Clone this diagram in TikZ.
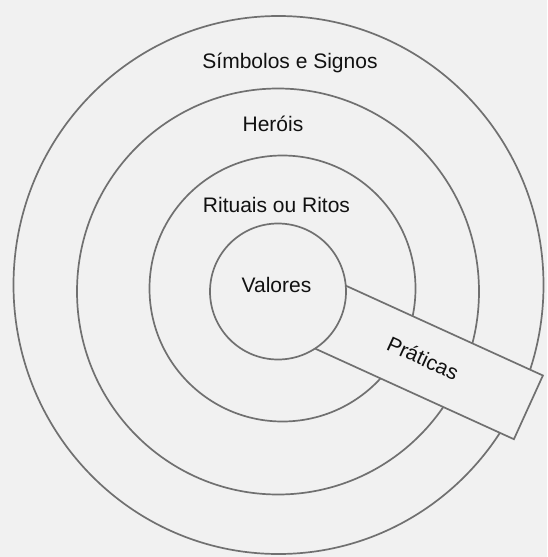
\documentclass[tikz,border=0pt]{standalone}
\usepackage{fontspec}
\setmainfont{Liberation Sans}
\definecolor{bgc}{HTML}{F1F1F1}
\definecolor{linec}{HTML}{707070}
\definecolor{txtc}{HTML}{111111}
\begin{document}
\begin{tikzpicture}[x=1pt,y=-1pt,
  ring/.style={draw=linec,line width=1.7pt,fill=bgc},
  lbl/.style={text=txtc,font=\fontsize{21}{25}\selectfont,inner sep=0pt}]
\fill[bgc] (0,0) rectangle (547,557);
\useasboundingbox (0,0) rectangle (547,557);
% rings
\draw[ring] (278.5,285) ellipse [x radius=265, y radius=269];
\draw[ring] (278,291.5) ellipse [x radius=201, y radius=203];
\draw[ring] (282.5,288.5) circle [radius=133];
% band
\coordinate (tn) at (291.7,261.0);
\coordinate (tf) at (542.9,375.5);
\coordinate (bf) at (513.9,439.2);
\coordinate (bn) at (262.7,324.7);
\draw[ring,line join=miter] (tn) -- (tf) -- (bf) -- (bn) -- cycle;
% inner
\draw[ring] (278,291.5) circle [radius=68];
% labels
\node[lbl,anchor=base] (sim) at (290,68) {Símbolos e Signos};
\node[lbl,anchor=base] (her) at (273,131) {Heróis};
\node[lbl,anchor=base] (rit) at (276.5,212) {Rituais ou Ritos};
\node[lbl,anchor=base] (val) at (276.5,292) {Valores};
\node[lbl,rotate=-24.5] (pra) at (423,358) {Práticas};
\end{tikzpicture}
\end{document}
